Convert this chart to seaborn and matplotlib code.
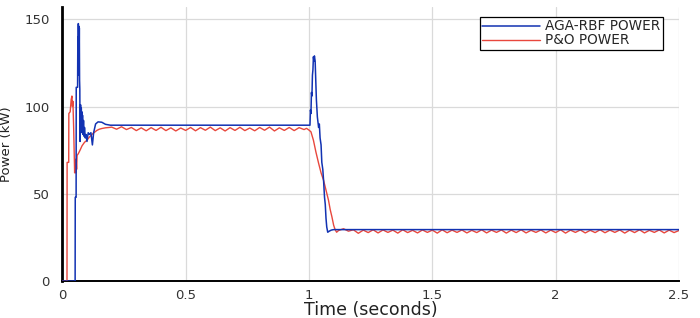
import matplotlib
matplotlib.use("Agg")
import matplotlib.pyplot as plt
import seaborn as sns
import pandas as pd

# ---------------- data ----------------
aga_t = [0.0, 0.052, 0.0525, 0.056, 0.0565, 0.062, 0.063, 0.064, 0.065, 0.066, 0.067,
         0.068, 0.069, 0.070, 0.071, 0.072, 0.074, 0.076, 0.077, 0.078, 0.079, 0.080,
         0.082, 0.084, 0.086, 0.088, 0.090, 0.093, 0.096, 0.100, 0.105, 0.110, 0.116,
         0.122, 0.127, 0.135, 0.145, 0.160, 0.175, 0.195,
         1.004, 1.006, 1.008, 1.010, 1.012, 1.014, 1.016, 1.018, 1.020, 1.022, 1.025,
         1.030, 1.034, 1.039, 1.042, 1.045, 1.049, 1.052, 1.056, 1.059, 1.063, 1.066,
         1.069, 1.072, 1.076, 1.082, 1.090, 1.100, 2.500]
aga_p = [0.0, 0.0, 48.0, 48.0, 111.0, 111.0, 140.0, 118.0, 147.5, 120.0, 146.0,
         122.0, 145.0, 115.0, 110.0, 80.0, 101.0, 88.0, 99.0, 86.0, 97.0, 85.0,
         95.0, 84.0, 92.0, 83.0, 88.0, 82.0, 84.0, 80.0, 85.0, 84.0, 85.0,
         78.0, 85.0, 90.0, 91.2, 91.0, 89.8, 89.3,
         89.3, 98.0, 96.0, 108.0, 106.0, 118.0, 121.0, 128.5, 126.0, 129.0, 126.0,
         104.0, 94.0, 88.0, 90.0, 82.0, 78.0, 68.0, 64.0, 58.0, 48.0, 44.0,
         36.0, 31.0, 28.0, 28.6, 29.2, 29.5, 29.5]

po_t = [0.0, 0.019, 0.0195, 0.026, 0.0265, 0.032, 0.036, 0.039, 0.041, 0.043, 0.046,
        0.049, 0.050, 0.052, 0.054, 0.056, 0.058, 0.060, 0.065, 0.072, 0.080, 0.090,
        0.100, 0.110, 0.120, 0.130, 0.140, 0.150, 0.160, 0.175, 0.190,
        0.20, 0.22, 0.24, 0.26, 0.28, 0.30, 0.32, 0.34, 0.36, 0.38,
        0.40, 0.42, 0.44, 0.46, 0.48, 0.50, 0.52, 0.54, 0.56, 0.58,
        0.60, 0.62, 0.64, 0.66, 0.68, 0.70, 0.72, 0.74, 0.76, 0.78,
        0.80, 0.82, 0.84, 0.86, 0.88, 0.90, 0.92, 0.94, 0.96, 0.98,
        0.99, 1.000, 1.008, 1.018, 1.028, 1.039, 1.049, 1.059, 1.069, 1.079, 1.086,
        1.093, 1.100, 1.106, 1.112,
        1.12, 1.14, 1.16, 1.18, 1.20, 1.22, 1.24, 1.26, 1.28, 1.30,
        1.32, 1.34, 1.36, 1.38, 1.40, 1.42, 1.44, 1.46, 1.48, 1.50,
        1.52, 1.54, 1.56, 1.58, 1.60, 1.62, 1.64, 1.66, 1.68, 1.70,
        1.72, 1.74, 1.76, 1.78, 1.80, 1.82, 1.84, 1.86, 1.88, 1.90,
        1.92, 1.94, 1.96, 1.98, 2.00, 2.02, 2.04, 2.06, 2.08, 2.10,
        2.12, 2.14, 2.16, 2.18, 2.20, 2.22, 2.24, 2.26, 2.28, 2.30,
        2.32, 2.34, 2.36, 2.38, 2.40, 2.42, 2.44, 2.46, 2.48, 2.50]
po_p = [0.0, 0.0, 68.0, 68.0, 96.0, 97.0, 104.0, 106.0, 100.0, 103.0, 88.0,
        70.0, 62.0, 69.0, 62.0, 70.0, 64.0, 72.0, 73.0, 75.0, 77.5, 79.5,
        80.7, 82.5, 84.0, 85.2, 86.3, 87.0, 87.4, 87.8, 88.0,
        88.2, 87.0, 88.4, 86.8, 88.0, 86.2, 87.8, 86.1, 87.9, 86.3,
        88.1, 86.2, 87.8, 86.0, 87.7, 86.3, 88.0, 86.1, 87.9, 86.4,
        88.2, 86.2, 87.8, 86.0, 87.9, 86.3, 88.1, 86.2, 87.7, 86.1,
        88.0, 86.4, 88.2, 86.0, 87.8, 86.3, 88.0, 86.2, 87.9, 86.8,
        87.5, 86.5, 85.5, 80.7, 74.0, 67.5, 62.0, 57.8, 52.0, 46.4, 41.0,
        36.8, 32.0, 29.5, 28.0,
        29.0, 30.0, 28.6, 29.4, 27.4, 29.2, 27.8, 29.4, 27.6, 29.3,
        27.9, 29.2, 27.5, 29.4, 27.8, 29.1, 27.6, 29.3, 27.9, 29.2,
        27.5, 29.4, 27.7, 29.2, 27.9, 29.3, 27.6, 29.1, 27.8, 29.4,
        27.6, 29.2, 27.9, 29.3, 27.5, 29.2, 27.8, 29.4, 27.6, 29.1,
        27.9, 29.3, 27.6, 29.2, 27.8, 29.4, 27.5, 29.2, 27.9, 29.3,
        27.6, 29.1, 27.8, 29.4, 27.7, 29.2, 27.9, 29.3, 27.5, 29.2,
        27.8, 29.4, 27.6, 29.1, 27.9, 29.3, 27.6, 29.2, 27.8, 29.0]

series_names = ["AGA-RBF POWER", "P&O POWER"]
x_ticks = [0, 0.5, 1, 1.5, 2, 2.5]
x_ticklabels = ["0", "0.5", "1", "1.5", "2", "2.5"]
y_ticks = [0, 50, 100, 150]
y_ticklabels = ["0", "50", "100", "150"]

# ---------------- plotting ----------------
sns.set_style("white")
plt.rcParams["font.family"] = ["DejaVu Sans"]

df_aga = pd.DataFrame({"t": aga_t, "p": aga_p})
df_po = pd.DataFrame({"t": po_t, "p": po_p})

fig = plt.figure(figsize=(7.0, 3.18), dpi=100)
ax = fig.add_axes([0.089, 0.116, 0.881, 0.862])

blue = "#1232b2"
red = "#e8473d"

sns.lineplot(data=df_po, x="t", y="p", ax=ax, color=red, linewidth=1.0,
             estimator=None, sort=False, label=series_names[1], zorder=3)
sns.lineplot(data=df_aga, x="t", y="p", ax=ax, color=blue, linewidth=1.1,
             estimator=None, sort=False, label=series_names[0], zorder=4)

ax.set_xlim(0, 2.5)
ax.set_ylim(0, 157)
ax.set_xticks(x_ticks)
ax.set_xticklabels(x_ticklabels)
ax.set_yticks(y_ticks)
ax.set_yticklabels(y_ticklabels)
ax.grid(True, color="#dadada", linewidth=0.9)
ax.set_axisbelow(True)

for s in ["top", "right"]:
    ax.spines[s].set_visible(False)
ax.spines["left"].set_linewidth(2.0)
ax.spines["left"].set_color("black")
ax.spines["bottom"].set_linewidth(1.4)
ax.spines["bottom"].set_color("black")

ax.tick_params(axis="both", direction="in", length=4, width=0.8, colors="black",
               labelsize=9.5, labelcolor="#333333")
ax.tick_params(axis="x", pad=6)
ax.tick_params(axis="y", pad=9)

ax.set_xlabel("Time (seconds)", fontsize=12.5, color="#222222", labelpad=-1)
ax.set_ylabel("Power (kW)", fontsize=9.5, color="#222222", labelpad=8)

handles, labels = ax.get_legend_handles_labels()
order = [labels.index(series_names[0]), labels.index(series_names[1])]
leg = ax.legend([handles[i] for i in order], [labels[i] for i in order],
                loc="upper right", bbox_to_anchor=(0.974, 0.965), fontsize=9.8,
                frameon=True, fancybox=False, edgecolor="black", framealpha=1,
                handlelength=4.2, handletextpad=0.4, labelspacing=0.0,
                borderpad=0.2, borderaxespad=0)
leg.get_frame().set_linewidth(0.9)

fig.savefig("out.png", dpi=100)
